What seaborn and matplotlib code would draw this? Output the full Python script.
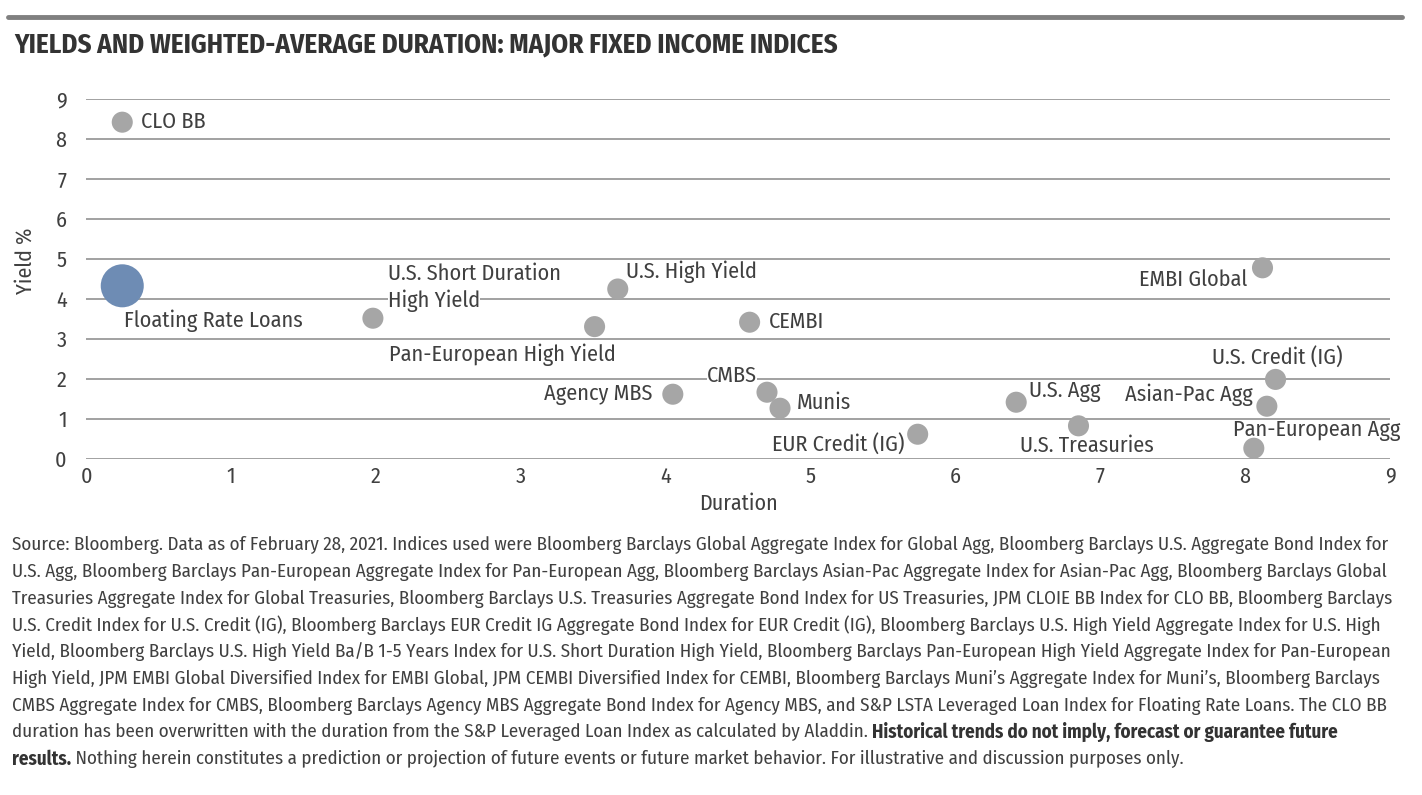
import matplotlib
matplotlib.use("Agg")
import matplotlib.pyplot as plt
from matplotlib import font_manager
from matplotlib.textpath import TextPath
from matplotlib.font_manager import FontProperties
import seaborn as sns
import pandas as pd

# Index data: duration (years) and yield (%)
names = ["CLO BB", "Floating Rate Loans", "U.S. Short Duration\nHigh Yield", "Pan-European High Yield",
         "U.S. High Yield", "Agency MBS", "CEMBI", "CMBS", "Munis", "EUR Credit (IG)", "U.S. Agg",
         "U.S. Treasuries", "EMBI Global", "U.S. Credit (IG)", "Asian-Pac Agg", "Pan-European Agg"]
duration = [0.25, 0.25, 1.98, 3.51, 3.67, 4.05, 4.58, 4.70, 4.79, 5.74, 6.42, 6.85, 8.12, 8.21, 8.15, 8.06]
yields = [8.42, 4.33, 3.52, 3.31, 4.25, 1.62, 3.42, 1.67, 1.27, 0.62, 1.42, 0.83, 4.78, 1.99, 1.32, 0.27]
group = ["other", "highlight"] + ["other"] * 14

xticks = list(range(0, 10))
yticks = list(range(0, 10))

# label placement: offset in pixels from the point, horizontal alignment
label_pos = {
    "CLO BB": (19, 0, "left"),
    "Floating Rate Loans": (2, -35, "left"),
    "U.S. Short Duration\nHigh Yield": (15, 31, "left"),
    "Pan-European High Yield": (-206, -28, "left"),
    "U.S. High Yield": (8, 17, "left"),
    "Agency MBS": (-20, 0, "right"),
    "CEMBI": (19, 0, "left"),
    "CMBS": (-10, 16, "right"),
    "Munis": (17, 5, "left"),
    "EUR Credit (IG)": (-13, -11, "right"),
    "U.S. Agg": (13, 11, "left"),
    "U.S. Treasuries": (-59, -20, "left"),
    "EMBI Global": (-15, -12, "right"),
    "U.S. Credit (IG)": (2, 21, "center"),
    "Asian-Pac Agg": (-14, 11, "right"),
    "Pan-European Agg": (-21, 18, "left"),
}
line_h = 27

title = "YIELDS AND WEIGHTED-AVERAGE DURATION: MAJOR FIXED INCOME INDICES"
footnote = [
    "Source: Bloomberg. Data as of February 28, 2021. Indices used were Bloomberg Barclays Global Aggregate Index for Global Agg, Bloomberg Barclays U.S. Aggregate Bond Index for",
    "U.S. Agg, Bloomberg Barclays Pan-European Aggregate Index for Pan-European Agg, Bloomberg Barclays Asian-Pac Aggregate Index for Asian-Pac Agg, Bloomberg Barclays Global",
    "Treasuries Aggregate Index for Global Treasuries, Bloomberg Barclays U.S. Treasuries Aggregate Bond Index for US Treasuries, JPM CLOIE BB Index for CLO BB, Bloomberg Barclays",
    "U.S. Credit Index for U.S. Credit (IG), Bloomberg Barclays EUR Credit IG Aggregate Bond Index for EUR Credit (IG), Bloomberg Barclays U.S. High Yield Aggregate Index for U.S. High",
    "Yield, Bloomberg Barclays U.S. High Yield Ba/B 1-5 Years Index for U.S. Short Duration High Yield, Bloomberg Barclays Pan-European High Yield Aggregate Index for Pan-European",
    "High Yield, JPM EMBI Global Diversified Index for EMBI Global, JPM CEMBI Diversified Index for CEMBI, Bloomberg Barclays Muni\u2019s Aggregate Index for Muni\u2019s, Bloomberg Barclays",
    "CMBS Aggregate Index for CMBS, Bloomberg Barclays Agency MBS Aggregate Bond Index for Agency MBS, and S&P LSTA Leveraged Loan Index for Floating Rate Loans. The CLO BB",
]
foot_line8 = ("duration has been overwritten with the duration from the S&P Leveraged Loan Index as calculated by Aladdin. ",
              "Historical trends do not imply, forecast or guarantee future")
foot_line9 = ("results.", " Nothing herein constitutes a prediction or projection of future events or future market behavior. For illustrative and discussion purposes only.")

df = pd.DataFrame({"name": names, "duration": duration, "yield": yields, "group": group})

sns.set_theme(style="white")
installed = {f.name for f in font_manager.fontManager.ttflist}
stretch = "normal"
if "Fira Sans Condensed" in installed:
    font = "Fira Sans Condensed"
else:
    font = "DejaVu Sans"
    stretch = "condensed"
plt.rcParams["font.family"] = [font, "DejaVu Sans"]
plt.rcParams["font.stretch"] = stretch


def fit_size(text, width_px, weight="normal"):
    # font size (pt) that gives the wanted width at 100 dpi
    fp = FontProperties(family=font, weight=weight, stretch=stretch)
    w = TextPath((0, 0), text, size=10, prop=fp).get_extents().width
    return 10 * (width_px / w) * 72 / 100


TXT = "#404040"
GRID = "#9a9a9a"

lab_fs = fit_size("Floating Rate Loans", 176)
tick_fs = fit_size("Duration", 75)
title_fs = fit_size(title, 824, "bold")
foot_fs = fit_size(footnote[0], 1374)

fig = plt.figure(figsize=(14.22, 7.95), dpi=100)
ax = fig.add_axes([0.0605, 0.4226, 0.917, 0.4529])

sns.scatterplot(data=df, x="duration", y="yield", hue="group", size="group",
                palette={"other": "#a6a6a6", "highlight": "#6e8cb4"},
                sizes={"other": 230, "highlight": 960},
                linewidth=0, alpha=1, legend=False, ax=ax, zorder=5, clip_on=False)

ax.set_xlim(0, 9)
ax.set_ylim(0, 9)
ax.set_xticks(xticks)
ax.set_yticks(yticks)
ax.grid(axis="y", color=GRID, linewidth=1.3)
ax.grid(axis="x", visible=False)
ax.set_axisbelow(True)
for s in ax.spines.values():
    s.set_visible(False)
ax.tick_params(axis="both", length=0, labelsize=tick_fs, labelcolor=TXT)
ax.tick_params(axis="x", pad=5)
ax.tick_params(axis="y", pad=14)
ax.set_xlabel("Duration", fontsize=tick_fs, color=TXT, labelpad=4)
ax.set_ylabel("Yield %", fontsize=tick_fs, color=TXT)
ax.yaxis.set_label_coords(-0.038, 0.55)

for n, x, y in zip(names, duration, yields):
    dx, dy, ha = label_pos[n]
    parts = n.split("\n")
    for k, part in enumerate(parts):
        off = dy + (len(parts) - 1) / 2 * line_h - k * line_h
        ax.annotate(part, (x, y), xytext=(dx, off), textcoords="offset pixels",
                    ha=ha, va="center", fontsize=lab_fs, color=TXT, zorder=4,
                    bbox=dict(facecolor="white", edgecolor="none", pad=0))

# top rule and title
fig.add_artist(plt.Line2D([8 / 1422, 1402 / 1422], [1 - 17 / 795] * 2, color="#808080", linewidth=3.5))
fig.text(14 / 1422, 1 - 45 / 795, title,
         fontsize=title_fs, fontweight="bold", color="#333333", va="center")

# footnote
fx = 12 / 1422
y0 = 545
step = 26.75
for i, line in enumerate(footnote):
    fig.text(fx, 1 - (y0 + i * step) / 795, line, fontsize=foot_fs, color=TXT, va="center")

renderer = fig.canvas.get_renderer()
y8 = 1 - (y0 + 7 * step) / 795
t = fig.text(fx, y8, foot_line8[0], fontsize=foot_fs, color=TXT, va="center")
x_end = t.get_window_extent(renderer).x1 / fig.bbox.width
fig.text(x_end, y8, foot_line8[1], fontsize=foot_fs, color="#333333", va="center", fontweight="bold")

y9 = 1 - (y0 + 8 * step) / 795
t = fig.text(fx, y9, foot_line9[0], fontsize=foot_fs, color="#333333", va="center", fontweight="bold")
x_end = t.get_window_extent(renderer).x1 / fig.bbox.width
fig.text(x_end, y9, foot_line9[1], fontsize=foot_fs, color=TXT, va="center")

fig.savefig("out.png", dpi=100)
